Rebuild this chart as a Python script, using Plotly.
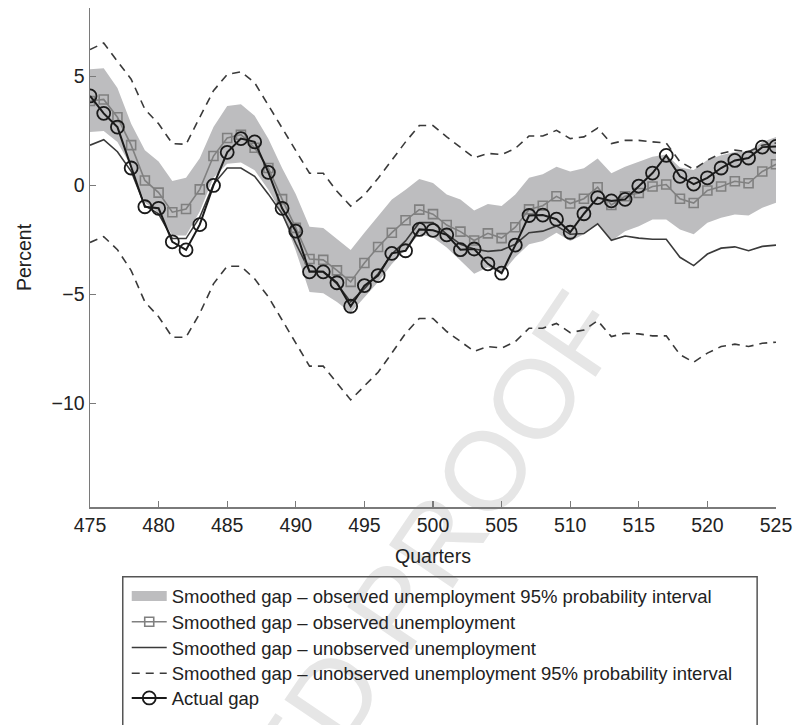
import plotly.graph_objects as go

quarters = list(range(475, 526))

actual_gap = [4.11, 3.31, 2.68, 0.80, -0.98, -1.05, -2.59, -2.96, -1.80, 0.00,
              1.52, 2.15, 2.00, 0.60, -1.05, -2.10, -3.97, -3.97, -4.47, -5.55,
              -4.60, -4.14, -3.12, -3.00, -2.02, -2.06, -2.27, -2.95, -2.92, -3.60,
              -4.03, -2.74, -1.38, -1.36, -1.55, -2.15, -1.30, -0.56, -0.71, -0.64,
              -0.03, 0.57, 1.38, 0.42, 0.06, 0.35, 0.80, 1.15, 1.26, 1.76, 1.79]

smoothed_observed = [3.88, 3.95, 3.13, 1.85, 0.23, -0.33, -1.23, -1.08, -0.18, 1.35,
                     2.18, 2.33, 1.73, 0.80, -0.63, -1.95, -3.38, -3.42, -3.90, -4.43,
                     -3.56, -2.83, -2.17, -1.60, -1.11, -1.32, -1.82, -2.12, -2.53, -2.20,
                     -2.42, -1.92, -1.10, -0.93, -0.50, -0.83, -0.61, -0.08, -0.90, -0.50,
                     -0.35, -0.05, 0.04, -0.61, -0.81, -0.23, -0.05, 0.19, 0.10, 0.64, 0.97]

smoothed_unobserved = [1.85, 2.10, 1.55, 0.65, -0.93, -1.30, -2.44, -2.44, -1.46, 0.05,
                       0.80, 0.80, 0.42, -0.40, -1.30, -2.66, -3.93, -3.95, -4.52, -5.35,
                       -4.74, -4.06, -3.15, -2.55, -1.71, -1.71, -2.24, -2.70, -2.92, -3.03,
                       -2.97, -2.70, -2.17, -2.10, -1.86, -2.24, -2.21, -1.76, -2.52, -2.32,
                       -2.42, -2.47, -2.47, -3.30, -3.68, -3.15, -2.88, -2.82, -3.00, -2.80, -2.74]

observed_band_upper = [5.34, 5.38, 4.48, 2.83, 1.62, 1.10, 0.20, 0.35, 1.25, 2.68,
                       3.65, 3.73, 3.20, 2.15, 0.80, -0.40, -1.90, -1.95, -2.46, -2.96,
                       -2.17, -1.41, -0.65, -0.20, 0.29, 0.11, -0.42, -0.65, -1.15, -0.85,
                       -0.95, -0.42, 0.35, 0.51, 0.86, 0.64, 0.79, 1.24, 0.56, 0.86,
                       1.09, 1.32, 1.42, 0.82, 0.71, 1.17, 1.39, 1.54, 1.57, 2.00, 2.23]

observed_band_lower = [2.45, 2.50, 2.00, 0.87, -0.80, -1.25, -2.30, -2.30, -1.20, 0.35,
                       1.00, 1.05, 0.70, -0.20, -1.30, -3.00, -4.90, -4.95, -5.35, -5.85,
                       -5.12, -4.44, -3.61, -2.93, -2.24, -2.39, -2.85, -3.45, -4.06, -3.76,
                       -4.06, -3.30, -2.70, -2.55, -2.17, -2.55, -2.24, -1.76, -2.55, -2.10,
                       -1.87, -1.56, -1.56, -2.02, -2.24, -1.71, -1.48, -1.33, -1.38, -1.03, -0.80]

unobserved_band_upper = [6.24, 6.54, 5.70, 4.88, 3.50, 2.83, 1.92, 1.89, 3.13, 4.35,
                         5.10, 5.22, 4.72, 3.66, 2.60, 1.60, 0.56, 0.56, -0.27, -0.95,
                         -0.43, 0.33, 1.16, 2.00, 2.75, 2.75, 2.23, 1.77, 1.27, 1.47,
                         1.42, 1.70, 2.27, 2.27, 2.53, 2.15, 2.23, 2.64, 1.92, 2.07,
                         2.07, 2.00, 1.95, 1.09, 0.74, 1.16, 1.47, 1.62, 1.55, 1.85, 1.95]

unobserved_band_lower = [-2.62, -2.35, -2.95, -3.91, -5.35, -6.03, -6.97, -6.97, -5.88, -4.52,
                         -3.71, -3.71, -4.29, -5.12, -6.18, -7.24, -8.30, -8.30, -9.06, -9.85,
                         -9.21, -8.58, -7.70, -6.79, -6.11, -6.11, -6.71, -7.17, -7.62, -7.40,
                         -7.47, -7.17, -6.56, -6.56, -6.34, -6.76, -6.64, -6.21, -6.94, -6.79,
                         -6.82, -6.91, -6.91, -7.77, -8.12, -7.70, -7.40, -7.29, -7.40, -7.25, -7.20]

x_ticks = list(range(475, 526, 5))
y_ticks = [-10, -5, 0, 5]
y_tick_labels = ["\u221210", "\u22125", "0", "5"]

names = [
    "Smoothed gap \u2013 observed unemployment 95% probability interval",
    "Smoothed gap \u2013 observed unemployment",
    "Smoothed gap \u2013 unobserved unemployment",
    "Smoothed gap \u2013 unobserved unemployment 95% probability interval",
    "Actual gap",
]

FONT = "Liberation Sans, Arial, Helvetica, sans-serif"
AXIS_COL = "#7a7a7a"
BAND_COL = "#bdbdbf"
DARK = "#3a3a3a"

# figure geometry (body margin removed, so page px == figure px)
W, H = 800, 725
L, R, T, B = 90, 19, 8, 212.5
PW, PH = W - L - R, H - T - B


def px(xp):
    return (xp - L) / PW


def py(yp):
    return (H - B - yp) / PH


fig = go.Figure()

# observed 95% band
fig.add_trace(go.Scatter(x=quarters + quarters[::-1],
                         y=observed_band_upper + observed_band_lower[::-1],
                         mode="lines", line=dict(width=0, color=BAND_COL),
                         fill="toself", fillcolor=BAND_COL, showlegend=False,
                         hoverinfo="skip"))
# legend key for the band (no data points)
fig.add_trace(go.Scatter(x=[None], y=[None], mode="lines",
                         line=dict(width=13, color=BAND_COL),
                         name=names[0], legend="legend"))

# unobserved 95% interval (dashed)
fig.add_trace(go.Scatter(x=quarters, y=unobserved_band_upper, mode="lines",
                         line=dict(width=1.6, color=DARK, dash="8px,6px"),
                         name=names[3], legendgroup="dash", legend="legend4"))
fig.add_trace(go.Scatter(x=quarters, y=unobserved_band_lower, mode="lines",
                         line=dict(width=1.6, color=DARK, dash="8px,6px"),
                         showlegend=False, legendgroup="dash", legend="legend4"))

# unobserved smoothed gap
fig.add_trace(go.Scatter(x=quarters, y=smoothed_unobserved, mode="lines",
                         line=dict(width=1.6, color=DARK),
                         name=names[2], legend="legend3"))

# observed smoothed gap
fig.add_trace(go.Scatter(x=quarters, y=smoothed_observed, mode="lines+markers",
                         line=dict(width=1.6, color="#808080"),
                         marker=dict(symbol="square-open", size=9, color="#808080",
                                     line=dict(width=1.6, color="#808080")),
                         name=names[1], legend="legend2"))

# actual gap
fig.add_trace(go.Scatter(x=quarters, y=actual_gap, mode="lines+markers",
                         line=dict(width=2, color="#1a1a1a"),
                         marker=dict(symbol="circle-open", size=13, color="#1a1a1a",
                                     line=dict(width=1.8, color="#1a1a1a")),
                         name=names[4], legend="legend5"))

shapes = [
    # legend frame
    dict(type="rect", xref="paper", yref="paper",
         x0=px(123), x1=px(762), y0=py(583), y1=py(790),
         line=dict(color="#555555", width=1.5), fillcolor="rgba(0,0,0,0)",
         layer="above"),
    # watermark
    dict(type="line", xref="paper", yref="paper",
         x0=px(58), y0=py(1097), x1=px(392), y1=py(599),
         line=dict(width=0, color="rgba(0,0,0,0)"), layer="below",
         label=dict(text="UNCORRECTED PROOF", textangle=-56,
                    font=dict(size=112, color="#e6e6e6", family=FONT),
                    textposition="middle", yanchor="middle")),
]

legend_rows = [603, 629, 655, 681, 706]


def legend_box(row_y):
    return dict(x=px(127), y=py(row_y), xanchor="left", yanchor="middle",
                bgcolor="rgba(0,0,0,0)", borderwidth=0, itemwidth=35,
                font=dict(size=18.5, family=FONT, color="#222222"))


fig.update_layout(
    width=W, height=H, autosize=False,
    margin=dict(l=L, r=R, t=T, b=B, pad=0),
    paper_bgcolor="white", plot_bgcolor="rgba(0,0,0,0)",
    font=dict(family=FONT, size=18, color="#222222"),
    hovermode=False,
    showlegend=True,
    legend=legend_box(legend_rows[0]),
    legend2=legend_box(legend_rows[1]),
    legend3=legend_box(legend_rows[2]),
    legend4=legend_box(legend_rows[3]),
    legend5=legend_box(legend_rows[4]),
    shapes=shapes,
    xaxis=dict(range=[475, 525], tickvals=x_ticks, ticks="inside", ticklen=6,
               tickcolor=AXIS_COL, tickwidth=1.2, showline=True, linecolor=AXIS_COL,
               linewidth=1.5, showgrid=False, zeroline=False,
               tickfont=dict(size=19.5),
               title=dict(text="Quarters", font=dict(size=19.5), standoff=14)),
    yaxis=dict(range=[-14.77, 8.15], tickvals=y_ticks, ticktext=y_tick_labels,
               ticks="inside", ticklen=6, tickcolor=AXIS_COL, tickwidth=1.2,
               showline=True, linecolor=AXIS_COL, linewidth=1.5, showgrid=False,
               zeroline=False, tickfont=dict(size=19.5),
               title=dict(text="Percent", font=dict(size=19.5), standoff=14)),
)

fig.write_html("out.html",
               config={"displayModeBar": False, "staticPlot": True},
               post_script="document.body.style.margin='0';"
                           "document.body.style.overflow='hidden';")
